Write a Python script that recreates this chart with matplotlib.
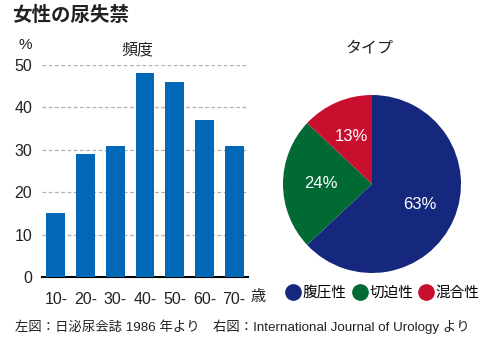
import matplotlib
matplotlib.use("Agg")
import matplotlib.pyplot as plt
from matplotlib.lines import Line2D

plt.rcParams['font.family'] = ['Liberation Sans', 'Noto Sans CJK JP', 'DejaVu Sans']

age_labels = ["10-", "20-", "30-", "40-", "50-", "60-", "70-"]
freq_values = [15, 29, 31, 48, 46, 37, 31]
yticks = [0, 10, 20, 30, 40, 50]

type_labels = ["腹圧性", "切迫性", "混合性"]
type_values = [63, 24, 13]
type_colors = ["#15287e", "#006934", "#c8102e"]

bar_color = "#0068b7"

fig = plt.figure(figsize=(5.0, 3.51), dpi=100)

# Bar chart
ax = fig.add_axes([42/500, 1-277/351, 206/500, 212/351])
x = list(range(len(age_labels)))
ax.bar(x, freq_values, width=0.64, color=bar_color, zorder=3)
ax.set_xlim(-0.47, len(age_labels) - 0.53)
ax.set_ylim(0, 50)
ax.set_yticks(yticks)
ax.set_yticklabels([str(v) for v in yticks], fontsize=11.5, color="#222222")
ax.set_xticks(x)
ax.set_xticklabels(age_labels, fontsize=11.5, color="#222222")
ax.tick_params(axis='both', length=0)
ax.tick_params(axis='x', pad=11)
ax.tick_params(axis='y', pad=7)
for s in ["top", "right", "left"]:
    ax.spines[s].set_visible(False)
ax.spines["bottom"].set_linewidth(1.5)
ax.spines["bottom"].set_color("black")
ax.grid(axis='y', linestyle=(0, (3, 2)), color="#b0b0b0", linewidth=0.9, zorder=1)
ax.set_axisbelow(True)

fig.text(251/500, 1-297/351, "歳", fontsize=11, va="center", ha="left", color="#222222")
fig.text(25/500, 1-45/351, "%", fontsize=11, va="center", ha="center", color="#222222")
fig.text(137/500, 1-50/351, "頻度", fontsize=11.5, va="center", ha="center", color="#222222")

# Title
fig.text(12/500, 1-15/351, "女性の尿失禁", fontsize=14, fontweight="bold", va="center", ha="left", color="#222222")

# Pie chart
cx, cy, r = 372, 184, 89
pax = fig.add_axes([(cx - r)/500, 1-(cy + r)/351, 2*r/500, 2*r/351])
wedges, texts, autotexts = pax.pie(
    type_values, colors=type_colors, startangle=90, counterclock=False,
    autopct=lambda p: f"{p:.0f}%", pctdistance=0.58,
    textprops=dict(color="white", fontsize=12))
pax.set_xlim(-1, 1)
pax.set_ylim(-1, 1)
pax.set_aspect("equal")
fig.text(370/500, 1-48/351, "タイプ", fontsize=11.5, va="center", ha="center", color="#222222")

handles = [Line2D([0], [0], marker='o', linestyle='', markersize=11,
                  markerfacecolor=c, markeredgecolor=c) for c in type_colors]
fig.legend(handles, type_labels, loc="center", bbox_to_anchor=(384/500, 1-293/351),
           ncol=3, frameon=False, fontsize=10.5, handlelength=0.7, handletextpad=0.3,
           columnspacing=0.55, borderpad=0)

# Footer
fig.text(15/500, 1-327/351, "左図：日泌尿会誌 1986 年より　右図：International Journal of Urology より",
         fontsize=9.6, va="center", ha="left", color="#222222")

fig.savefig("out.png", dpi=100)
